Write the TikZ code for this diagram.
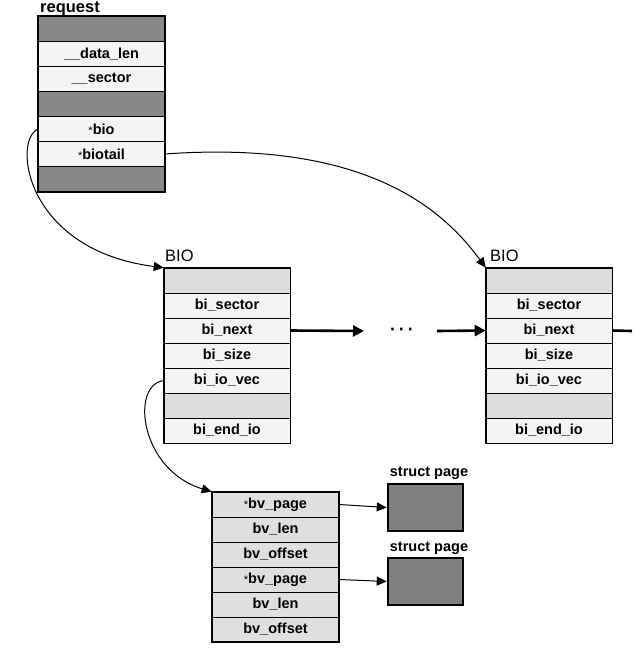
\documentclass[tikz,border=0pt]{standalone}
\usepackage{fontspec}
\setmainfont{Liberation Sans}
\usetikzlibrary{arrows.meta}
\definecolor{dkgray}{HTML}{888888}
\definecolor{ltrow}{HTML}{F5F3F5}
\definecolor{grrow}{HTML}{DCDCDC}
\definecolor{bvrow}{HTML}{DFDFDF}
\definecolor{pagegray}{HTML}{808080}
\newcommand{\mystar}{{\mdseries\fontsize{11}{12}\selectfont *}}
\tikzset{
  cell/.style={draw, line width=0.6pt, minimum width=126pt, minimum height=25pt, inner sep=0pt, font=\fontsize{14.5}{16}\selectfont\bfseries},
  wcell/.style={cell, fill=ltrow},
  dcell/.style={cell, fill=dkgray},
  gcell/.style={cell, fill=grrow},
  bcell/.style={cell, fill=bvrow, minimum width=127pt},
  pagebox/.style={draw, line width=2.5pt, fill=pagegray, minimum width=75pt, minimum height=47pt},
  title/.style={font=\fontsize{16.5}{18}\selectfont, anchor=base west, inner sep=0pt},
  btitle/.style={font=\fontsize{14.5}{16}\selectfont\bfseries, inner sep=0pt},
  outer/.style={line width=2.2pt},
  arr/.style={line width=1pt, -{Triangle[length=10pt,width=9pt]}},
  thickarr/.style={line width=2.6pt, -{Triangle[length=11pt,width=11pt]}},
}
\begin{document}
\begin{tikzpicture}[x=1pt,y=-1pt]
\useasboundingbox (0,0) rectangle (642,662);
% request
\node[dcell] (r0) at (101.5,29) {};
\node[wcell] (r1) at (101.5,54) {\_\_data\_len};
\node[wcell] (r2) at (101.5,79) {\_\_sector};
\node[dcell] (r3) at (101.5,104) {};
\node[wcell] (r4) at (101.5,129) {\mystar bio};
\node[wcell] (r5) at (101.5,154) {\mystar biotail};
\node[dcell] (r6) at (101.5,179) {};
\draw[outer] (r0.north west) rectangle (r6.south east);
\node[font=\fontsize{16.5}{18}\selectfont\bfseries, anchor=base west, inner sep=0pt] (reqlbl) at (40,12.5) {request};
% BIO 1
\node[gcell] (a0) at (227,280.5) {};
\node[wcell] (a1) at (227,305.5) {bi\_sector};
\node[wcell] (a2) at (227,330.5) {bi\_next};
\node[wcell] (a3) at (227,355.5) {bi\_size};
\node[wcell] (a4) at (227,380.5) {bi\_io\_vec};
\node[gcell] (a5) at (227,405.5) {};
\node[wcell] (a6) at (227,430.5) {bi\_end\_io};
\draw[line width=1.4pt] (a0.north west) rectangle (a6.south east);
\node[title] (albl) at (165,261) {BIO};
% BIO 2
\node[gcell] (b0) at (549,280.5) {};
\node[wcell] (b1) at (549,305.5) {bi\_sector};
\node[wcell] (b2) at (549,330.5) {bi\_next};
\node[wcell] (b3) at (549,355.5) {bi\_size};
\node[wcell] (b4) at (549,380.5) {bi\_io\_vec};
\node[gcell] (b5) at (549,405.5) {};
\node[wcell] (b6) at (549,430.5) {bi\_end\_io};
\draw[line width=1.4pt] (b0.north west) rectangle (b6.south east);
\node[title] (blbl) at (490,261) {BIO};
% bio_vec array
\node[bcell] (v0) at (275.5,504.5) {\mystar bv\_page};
\node[bcell] (v1) at (275.5,529.5) {bv\_len};
\node[bcell] (v2) at (275.5,554.5) {bv\_offset};
\node[bcell] (v3) at (275.5,579.5) {\mystar bv\_page};
\node[bcell] (v4) at (275.5,604.5) {bv\_len};
\node[bcell] (v5) at (275.5,629.5) {bv\_offset};
\draw[line width=1.8pt] (v0.north west) rectangle (v5.south east);
\draw[line width=1.6pt] (v2.south west) -- (v2.south east);
% struct pages
\node[pagebox] (p1) at (425.5,507.5) {};
\node[pagebox] (p2) at (425.5,581.5) {};
\node[btitle, anchor=base] (p1lbl) at (429,476) {struct page};
\node[btitle, anchor=base] (p2lbl) at (429,551) {struct page};
% chain arrows
\coordinate (c1) at (364,331);
\coordinate (c2) at (437,331);
\coordinate (c3) at (632,331);
\node[font=\fontsize{18}{20}\selectfont\bfseries, inner sep=0pt] (dots) at (402,332) {·\,·\,·};
\draw[thickarr] (a2.east) -- (c1);
\draw[thickarr] (c2) -- (b2.west);
\draw[line width=2.6pt] (b2.east) -- (c3);
% curves
\draw[arr] (r4.west) .. controls (12,140) and (25,250) .. (a0.north west);
\draw[arr] (r5.east) .. controls (360,140) and (440,205) .. (b0.north west);
\draw[arr] (a4.west) .. controls (130,385) and (140,470) .. (v0.north west);
% page arrows
\draw[arr] (v0.east) -- (p1.west);
\draw[arr] (v3.east) -- (p2.west);
\end{tikzpicture}
\end{document}
